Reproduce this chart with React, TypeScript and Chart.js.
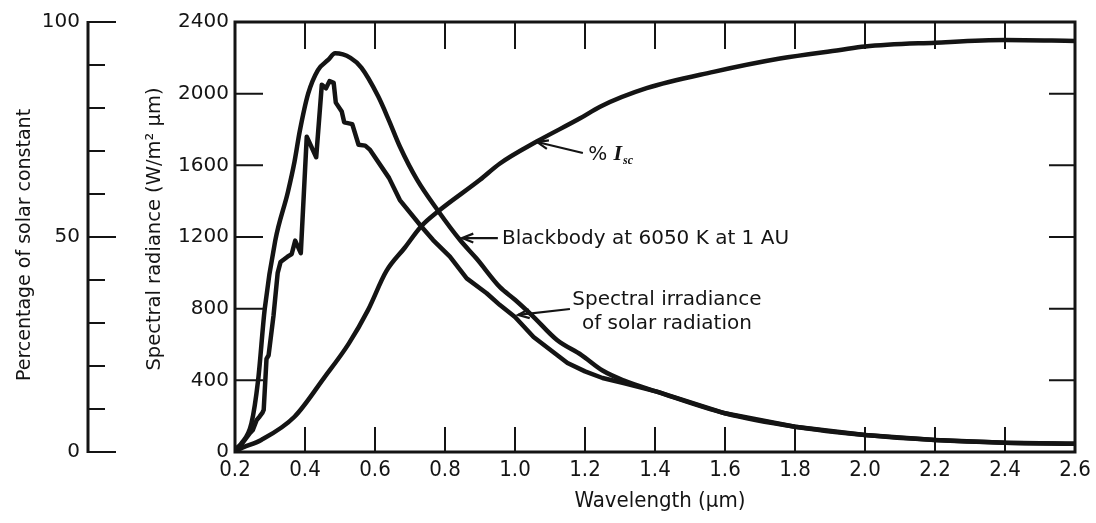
import React, { useEffect, useRef } from "react";
import { Chart, registerables } from "chart.js";

Chart.register(...registerables);

// ---------- data ----------
const bbWavelength = [0.2, 0.218, 0.247, 0.266, 0.285, 0.315, 0.351, 0.37, 0.385, 0.409, 0.437, 0.466, 0.486, 0.53, 0.561, 0.609, 0.64, 0.671, 0.72, 0.781, 0.843, 0.89, 0.957, 1.0, 1.05, 1.12, 1.19, 1.25, 1.31, 1.405, 1.6, 1.8, 2.0, 2.2, 2.4, 2.6];
const bbRadiance = [15, 48, 160, 400, 800, 1180, 1450, 1620, 1790, 2000, 2132, 2188, 2225, 2200, 2145, 1985, 1850, 1705, 1520, 1344, 1183, 1080, 920, 850, 760, 625, 541, 455, 400, 337, 216, 141, 95, 67, 52, 46];

const solarWavelength = [0.2, 0.214, 0.228, 0.243, 0.251, 0.262, 0.27, 0.278, 0.282, 0.29, 0.296, 0.31, 0.322, 0.33, 0.35, 0.362, 0.372, 0.388, 0.405, 0.432, 0.448, 0.46, 0.47, 0.482, 0.488, 0.505, 0.512, 0.535, 0.553, 0.572, 0.586, 0.64, 0.671, 0.733, 0.766, 0.814, 0.862, 0.919, 0.957, 1.0, 1.053, 1.15, 1.2, 1.25, 1.31, 1.405, 1.6, 1.8, 2.0, 2.2, 2.4, 2.6];
const solarIrradiance = [10, 30, 67, 106, 123, 179, 197, 218, 235, 520, 540, 760, 1000, 1060, 1090, 1105, 1180, 1110, 1760, 1645, 2050, 2030, 2070, 2060, 1950, 1900, 1840, 1830, 1715, 1710, 1686, 1530, 1406, 1257, 1183, 1090, 969, 886, 820, 753, 642, 497, 450, 413, 385, 337, 216, 141, 95, 67, 52, 46];

const iscWavelength = [0.2, 0.209, 0.275, 0.37, 0.455, 0.525, 0.58, 0.632, 0.685, 0.731, 0.781, 0.9, 0.957, 1.062, 1.186, 1.243, 1.376, 1.567, 1.757, 1.929, 2.0, 2.2, 2.4, 2.6];
const iscPercent = [0, 0.5, 2.8, 8.2, 17.3, 25.2, 33, 42, 47.5, 52.4, 56, 63.3, 67.1, 72.2, 77.6, 80.3, 84.6, 88.4, 91.5, 93.5, 94.3, 95.2, 95.8, 95.6];

const xTicks = [0.2, 0.4, 0.6, 0.8, 1.0, 1.2, 1.4, 1.6, 1.8, 2.0, 2.2, 2.4, 2.6];
const radianceTicks = [0, 400, 800, 1200, 1600, 2000, 2400];
const percentLabelTicks = [0, 50, 100];
const percentMinorTicks = [0, 10, 20, 30, 40, 50, 60, 70, 80, 90, 100];

// annotation anchors (data coordinates: wavelength, radiance)
const iscNote = { tip: [1.063, 1730], tail: [1.194, 1669], text: [1.209, 1630] };
const bbNote = { tip: [0.849, 1194], tail: [0.951, 1194], text: [0.963, 1189] };
const solarNote = { tip: [1.009, 765], tail: [1.157, 798], text: [1.434, 848] };

const INK = "#141414";
const SANS = '"DejaVu Sans", "Liberation Sans", sans-serif';
const NARROW = '"DejaVu Sans Condensed", "Liberation Sans Narrow", "DejaVu Sans", sans-serif';

function pts(xs: number[], ys: number[]) {
  return xs.map((x, i) => ({ x, y: ys[i] }));
}

function drawArrow(ctx: CanvasRenderingContext2D, tx: number, ty: number, hx: number, hy: number) {
  ctx.beginPath();
  ctx.moveTo(tx, ty);
  ctx.lineTo(hx, hy);
  ctx.stroke();
  const ang = Math.atan2(ty - hy, tx - hx);
  const L = 12;
  const s = 0.38;
  ctx.beginPath();
  ctx.moveTo(hx + L * Math.cos(ang + s), hy + L * Math.sin(ang + s));
  ctx.lineTo(hx, hy);
  ctx.lineTo(hx + L * Math.cos(ang - s), hy + L * Math.sin(ang - s));
  ctx.stroke();
}

const decor = {
  id: "decor",
  afterDraw(chart: any) {
    const { ctx, chartArea: a, scales } = chart;
    const sx = scales.x;
    const sy = scales.y;
    const sp = scales.yp;
    ctx.save();
    ctx.strokeStyle = INK;
    ctx.fillStyle = INK;
    ctx.lineCap = "butt";

    // frame
    ctx.lineWidth = 3;
    ctx.strokeRect(a.left, a.top, a.right - a.left, a.bottom - a.top);

    // inward ticks on all four sides
    ctx.lineWidth = 2;
    for (const t of xTicks) {
      const px = sx.getPixelForValue(t);
      if (px <= a.left + 2 || px >= a.right - 2) continue;
      ctx.beginPath();
      ctx.moveTo(px, a.bottom);
      ctx.lineTo(px, a.bottom - 25);
      ctx.moveTo(px, a.top);
      ctx.lineTo(px, a.top + 27);
      ctx.stroke();
    }
    for (const t of radianceTicks) {
      const py = sy.getPixelForValue(t);
      if (py <= a.top + 2 || py >= a.bottom - 2) continue;
      ctx.beginPath();
      ctx.moveTo(a.left, py);
      ctx.lineTo(a.left + 28, py);
      ctx.moveTo(a.right, py);
      ctx.lineTo(a.right - 26, py);
      ctx.stroke();
    }

    // percentage axis
    const ax = sp.right + 2;
    ctx.lineWidth = 3;
    ctx.beginPath();
    ctx.moveTo(ax, sp.getPixelForValue(0) + 1);
    ctx.lineTo(ax, sp.getPixelForValue(100) - 1);
    ctx.stroke();
    ctx.lineWidth = 2;
    for (const t of percentMinorTicks) {
      const py = sp.getPixelForValue(t);
      const len = percentLabelTicks.includes(t) ? 28 : 17;
      ctx.beginPath();
      ctx.moveTo(ax, py);
      ctx.lineTo(ax + len, py);
      ctx.stroke();
    }

    // axis titles
    ctx.textAlign = "center";
    ctx.textBaseline = "middle";
    ctx.font = `19px ${SANS}`;
    ctx.save();
    ctx.translate(25, 245);
    ctx.rotate(-Math.PI / 2);
    ctx.fillText("Percentage of solar constant", 0, 0);
    ctx.restore();
    ctx.font = `19.5px ${SANS}`;
    ctx.save();
    ctx.translate(155, 229);
    ctx.rotate(-Math.PI / 2);
    ctx.fillText("Spectral radiance (W/m\u00B2 \u03BCm)", 0, 0);
    ctx.restore();
    ctx.font = `22px ${NARROW}`;
    ctx.fillText("Wavelength (\u03BCm)", (a.left + a.right) / 2 + 5, 501);

    // annotations
    const P = (d: number[]) => [sx.getPixelForValue(d[0]), sy.getPixelForValue(d[1])];
    ctx.lineWidth = 2.2;
    let t = P(iscNote.tail), h = P(iscNote.tip);
    drawArrow(ctx, t[0], t[1], h[0], h[1]);
    t = P(bbNote.tail); h = P(bbNote.tip);
    drawArrow(ctx, t[0], t[1], h[0], h[1]);
    t = P(solarNote.tail); h = P(solarNote.tip);
    drawArrow(ctx, t[0], t[1], h[0], h[1]);

    ctx.textAlign = "left";
    ctx.textBaseline = "alphabetic";
    const it = P(iscNote.text);
    ctx.font = `20px ${SANS}`;
    ctx.fillText("%", it[0], it[1]);
    const pw = ctx.measureText("% ").width;
    ctx.font = `italic bold 22px "Liberation Serif", "DejaVu Serif", serif`;
    ctx.fillText("I", it[0] + pw, it[1]);
    const iw = ctx.measureText("I").width;
    ctx.font = `italic bold 12px "Liberation Serif", "DejaVu Serif", serif`;
    ctx.fillText("sc", it[0] + pw + iw + 1, it[1] + 4);

    ctx.textBaseline = "middle";
    ctx.font = `20px ${SANS}`;
    const bt = P(bbNote.text);
    ctx.fillText("Blackbody at 6050 K at 1 AU", bt[0], bt[1]);

    ctx.textAlign = "center";
    const st = P(solarNote.text);
    ctx.fillText("Spectral irradiance", st[0], st[1]);
    ctx.fillText("of solar radiation", st[0], st[1] + 24);

    ctx.restore();
  },
};

export default function App() {
  const ref = useRef<HTMLCanvasElement | null>(null);

  useEffect(() => {
    if (!ref.current) return;
    const chart = new Chart(ref.current, {
      type: "line",
      data: {
        datasets: [
          {
            label: "Blackbody at 6050 K at 1 AU",
            data: pts(bbWavelength, bbRadiance),
            borderColor: INK,
            borderWidth: 4.5,
            pointRadius: 0,
            cubicInterpolationMode: "monotone",
            yAxisID: "y",
          },
          {
            label: "Spectral irradiance of solar radiation",
            data: pts(solarWavelength, solarIrradiance),
            borderColor: INK,
            borderWidth: 4.5,
            pointRadius: 0,
            tension: 0,
            borderJoinStyle: "round",
            yAxisID: "y",
          },
          {
            label: "% Isc",
            data: pts(iscWavelength, iscPercent),
            borderColor: INK,
            borderWidth: 4.5,
            pointRadius: 0,
            cubicInterpolationMode: "monotone",
            yAxisID: "yp",
          },
        ],
      },
      options: {
        responsive: false,
        animation: false,
        devicePixelRatio: 1,
        layout: { padding: { top: 22, right: 21, bottom: 0, left: 0 } },
        plugins: { legend: { display: false }, tooltip: { enabled: false }, title: { display: false } },
        events: [],
        scales: {
          x: {
            type: "linear",
            min: 0.2,
            max: 2.6,
            afterBuildTicks: (s: any) => {
              s.ticks = xTicks.map((v) => ({ value: v }));
            },
            afterFit: (s: any) => {
              s.height = 71;
            },
            ticks: {
              autoSkip: false,
              maxRotation: 0,
              padding: 5,
              color: INK,
              font: { family: NARROW, size: 22 },
              callback: (v: any) => Number(v).toFixed(1),
            },
            grid: { display: false, drawTicks: false },
            border: { display: false },
          },
          y: {
            type: "linear",
            position: "left",
            weight: 0,
            min: 0,
            max: 2400,
            afterBuildTicks: (s: any) => {
              s.ticks = radianceTicks.map((v) => ({ value: v }));
            },
            afterFit: (s: any) => {
              s.width = 149;
            },
            ticks: {
              padding: 6,
              color: INK,
              font: { family: SANS, size: 20 },
              callback: (v: any) => String(v),
            },
            grid: { display: false, drawTicks: false },
            border: { display: false },
          },
          yp: {
            type: "linear",
            position: "left",
            weight: 1,
            min: 0,
            max: 100,
            afterBuildTicks: (s: any) => {
              s.ticks = percentLabelTicks.map((v) => ({ value: v }));
            },
            afterFit: (s: any) => {
              s.width = 86;
            },
            ticks: {
              padding: 6,
              color: INK,
              font: { family: SANS, size: 20 },
              callback: (v: any) => String(v),
            },
            grid: { display: false, drawTicks: false },
            border: { display: false },
          },
        },
      },
      plugins: [decor],
    } as any);
    return () => chart.destroy();
  }, []);

  return (
    <div style={{ position: "absolute", left: 0, top: 0, width: 1096, height: 523, background: "#fff" }}>
      <canvas ref={ref} width={1096} height={523} style={{ display: "block" }} />
    </div>
  );
}
